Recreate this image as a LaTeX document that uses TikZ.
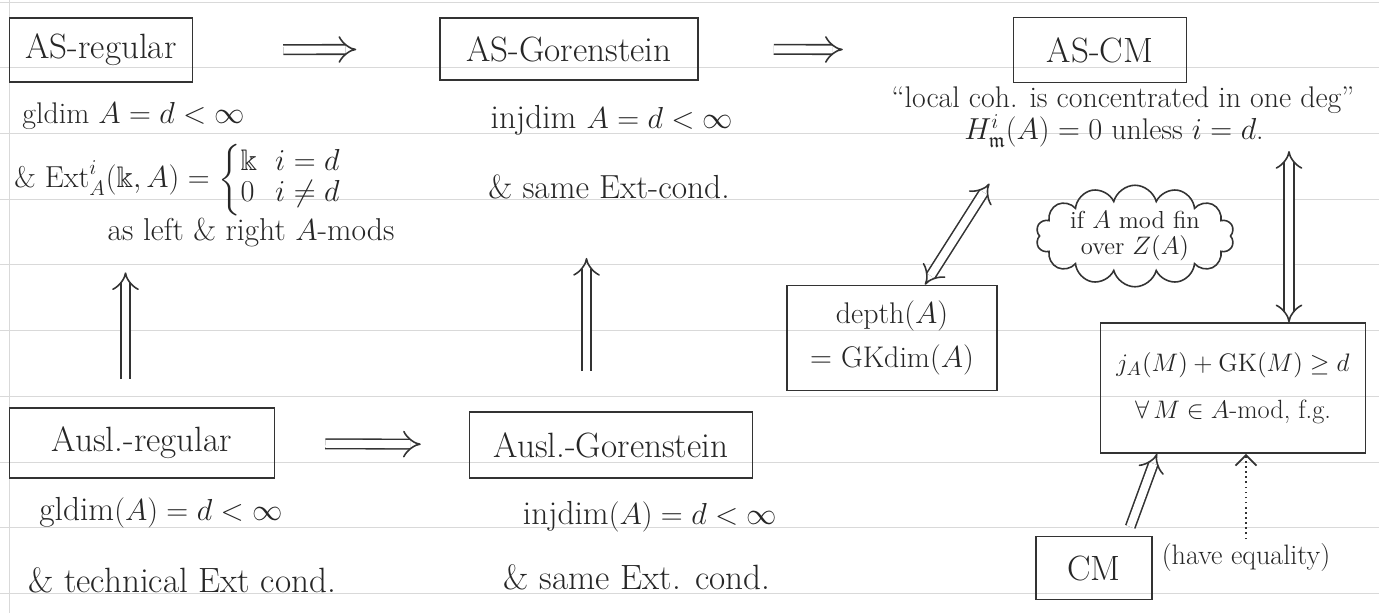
\documentclass[tikz,border=0pt]{standalone}
\usepackage{amsmath,amssymb}
\usetikzlibrary{arrows.meta,positioning,shapes.symbols}

\newcommand{\twocases}[4]{\left\{\renewcommand{\arraystretch}{0.85}\begin{array}{@{}l@{\ \ }l@{}}#1 & #2\\ #3 & #4\end{array}\right.}

\begin{document}
\begin{tikzpicture}[
  x=0.02cm, y=-0.02cm,
  every node/.style={text=black!85},
  pencil/.style={draw=black!80, line width=0.9pt},
  box/.style={pencil, inner sep=4pt, align=center},
  title/.style={font=\fontsize{20}{24}\selectfont},
  note/.style={font=\fontsize{17}{21}\selectfont, inner sep=2pt, align=center},
  big/.style={font=\fontsize{19}{23}\selectfont},
  implies/.style={draw=black!80, double, double distance=4.5pt, line width=0.9pt, -{Implies}},
  iff/.style={implies, {Implies}-{Implies}},
  ruled/.style={gray!30, line width=0.4pt}
]
  \useasboundingbox (0,0) rectangle (1379,613);

  % ruled paper
  \foreach \k in {0,...,9}
    \draw[ruled] (0,{2+65.7*\k}) -- (1379,{2+65.7*\k});
  \draw[ruled] (9,0) -- (9,613);

  % top row
  \node[box, title, minimum width=3.66cm, minimum height=1.28cm] (asreg) at (101,50) {AS-regular};
  \node[box, title, minimum width=5.16cm, minimum height=1.24cm] (asgor) at (569,49) {AS-Gorenstein};
  \node[box, title, minimum width=3.46cm, minimum height=1.3cm] (ascm) at (1100,50) {AS-CM};

  \node[note, anchor=west, inner sep=0pt] (glA) at (22,116) {gldim $A=d<\infty$};
  \node[note, anchor=west, inner sep=0pt] (extA) at (14,180) {\& $\mathrm{Ext}^i_A(\Bbbk,A)=\twocases{\Bbbk}{i=d}{0}{i\neq d}$};
  \node[note, font=\fontsize{18}{22}\selectfont] (lrmods) at (251,232) {as left \& right $A$-mods};
  \node[note, big] (injA) at (612,120) {injdim $A=d<\infty$};
  \node[note, big] (sameA) at (609,187) {\& same Ext-cond.};
  \node[note] (loccoh) at (1123,100) {“local coh. is concentrated in one deg”};
  \node[note] (hloc) at (1114,131) {$H^i_{\mathfrak m}(A)=0$ unless $i=d$.};

  % bottom row
  \node[box, title, minimum width=5.3cm, minimum height=1.4cm] (auslreg) at (142,443) {Ausl.-regular};
  \node[box, title, minimum width=5.66cm, minimum height=1.32cm] (auslgor) at (611,445) {Ausl.-Gorenstein};
  \node[note, big] (glB) at (161,513) {gldim$(A)=d<\infty$};
  \node[note, font=\fontsize{20}{24}\selectfont] (techB) at (182,580) {\& technical Ext cond.};
  \node[note, big] (injB) at (650,517) {injdim$(A)=d<\infty$};
  \node[note, font=\fontsize{20}{24}\selectfont] (sameB) at (637,577) {\& same Ext. cond.};

  % right part
  \node[box, note, minimum width=4.2cm, minimum height=2.1cm, font=\fontsize{17}{25}\selectfont] (depth) at (892,338) {depth$(A)$\\ $=$ GKdim$(A)$};
  \node[cloud, draw=black!80, line width=0.9pt, cloud puffs=14, aspect=2.7, inner sep=0pt, font=\fontsize{14}{15}\selectfont, align=center] (cond) at (1135,236) {if $A$ mod fin\\ over $Z(A)$};
  \node[box, note, minimum width=5.3cm, minimum height=2.6cm, font=\fontsize{15}{27}\selectfont] (jbox) at (1233,388) {$j_A(M)+\mathrm{GK}(M)\geq d$\\ $\forall\, M\in A$-mod, f.g.};
  \node[box, title, minimum width=2.32cm, minimum height=1.26cm] (cm) at (1094,568) {CM};
  \node[note, font=\fontsize{16}{19}\selectfont] (eq) at (1246,557) {(have equality)};

  % implications
  \draw[implies, shorten <=1.8cm, shorten >=1.66cm] (asreg) -- (asgor);
  \draw[implies, shorten <=1.5cm, shorten >=3.4cm] (asgor) -- (ascm);
  \draw[implies, shorten <=1cm, shorten >=0.96cm] (auslreg) -- (auslgor);
  \draw[implies, shorten <=0.56cm, shorten >=0.44cm] ([xshift=-0.33cm]auslreg.north) -- ([xshift=-0.33cm]auslreg.north |- lrmods.south);
  \draw[implies, shorten <=0.8cm, shorten >=1.1cm] ([xshift=-0.49cm]auslgor.north) -- ([xshift=-0.49cm]auslgor.north |- sameA.south);
  \draw[iff, shorten >=0.77cm] ([xshift=0.66cm]depth.north) -- ([xshift=-2.08cm]hloc.south);
  \draw[iff] ([xshift=1.12cm]jbox.north) -- ([xshift=1.12cm]jbox.north |- hloc.south);
  \draw[implies, shorten <=0.19cm] ([xshift=0.66cm]cm.north) -- ([xshift=-1.52cm]jbox.south);
  \draw[pencil, dotted, line width=1pt, -{Straight Barb[length=6pt, width=12pt]}] (eq.north) -- (eq.north |- jbox.south);
\end{tikzpicture}
\end{document}
